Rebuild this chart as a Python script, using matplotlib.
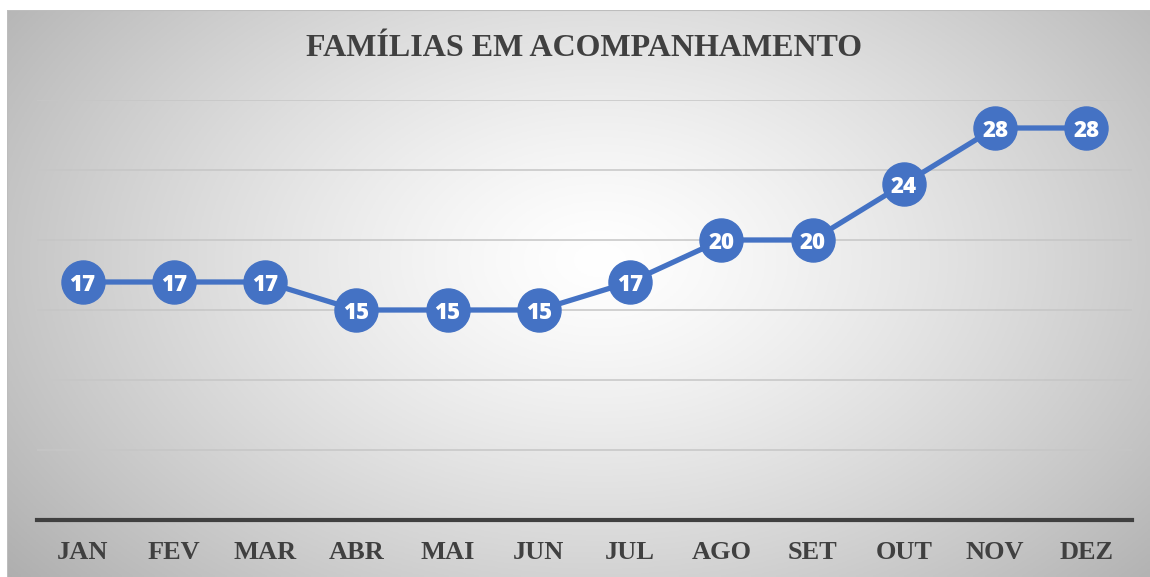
import numpy as np
import matplotlib
matplotlib.use("Agg")
import matplotlib.pyplot as plt

months = ["JAN", "FEV", "MAR", "ABR", "MAI", "JUN", "JUL", "AGO", "SET", "OUT", "NOV", "DEZ"]
familias = [17, 17, 17, 15, 15, 15, 17, 20, 20, 24, 28, 28]
title = "FAMÍLIAS EM ACOMPANHAMENTO"

W, H = 1150, 577
fig = plt.figure(figsize=(W / 100, H / 100), dpi=100)
fig.patch.set_facecolor("white")

# gradient background
bg = fig.add_axes([7 / W, 0, (W - 7) / W, (H - 10) / H])
bg.set_axis_off()
nx, ny = 400, 200
xs = np.linspace(7, W, nx)
ys = np.linspace(10, H, ny)
X, Y = np.meshgrid(xs, ys)
cx, cy = 600, 260
r = np.sqrt(((X - cx) / 640) ** 2 + ((Y - cy) / 420) ** 2)
val = 1.0 - 0.25 * np.clip(r, 0, 1.2) ** 1.3
img = np.dstack([val, val, val])
bg.imshow(img, aspect="auto", extent=[0, 1, 0, 1], origin="upper")
bg.set_xlim(0, 1)
bg.set_ylim(0, 1)
bg.axhline(1, color="#bdbdbd", lw=1.5)
bg.axvline(0, color="#bdbdbd", lw=1.5)

ax = fig.add_axes([37 / W, (H - 520) / H, 1095 / W, 420 / H])
ax.patch.set_alpha(0)
x = np.arange(len(months))
ax.set_xlim(-0.5, len(months) - 0.5)
ax.set_ylim(0, 30)
for gy in [5, 10, 15, 20, 25, 30]:
    ax.axhline(gy, color="#c6c6c6", lw=1.1, zorder=1)
for s in ["top", "left", "right"]:
    ax.spines[s].set_visible(False)
ax.spines["bottom"].set_color("#404040")
ax.spines["bottom"].set_linewidth(3)
ax.set_yticks([])
ax.set_xticks(x)
ax.set_xticklabels(months, family="Liberation Serif", fontweight="bold",
                   fontsize=19, color="#404040")
ax.tick_params(axis="x", length=0, pad=15)

ax.plot(x, familias, color="#4472C4", lw=3.8, marker="o", markersize=31,
        markerfacecolor="#4472C4", markeredgecolor="#4472C4", zorder=3,
        solid_capstyle="round")
for xi, v in zip(x, familias):
    ax.text(xi, v, str(v), ha="center", va="center_baseline", color="white",
            fontsize=16, fontweight="heavy", family=["Open Sans", "DejaVu Sans"], zorder=4)

fig.text(584 / W, 1 - 49 / H, title, ha="center", va="center",
         family="Liberation Serif", fontweight="bold", fontsize=23,
         color="#404040")

fig.savefig("out.png", dpi=100, facecolor="white")
